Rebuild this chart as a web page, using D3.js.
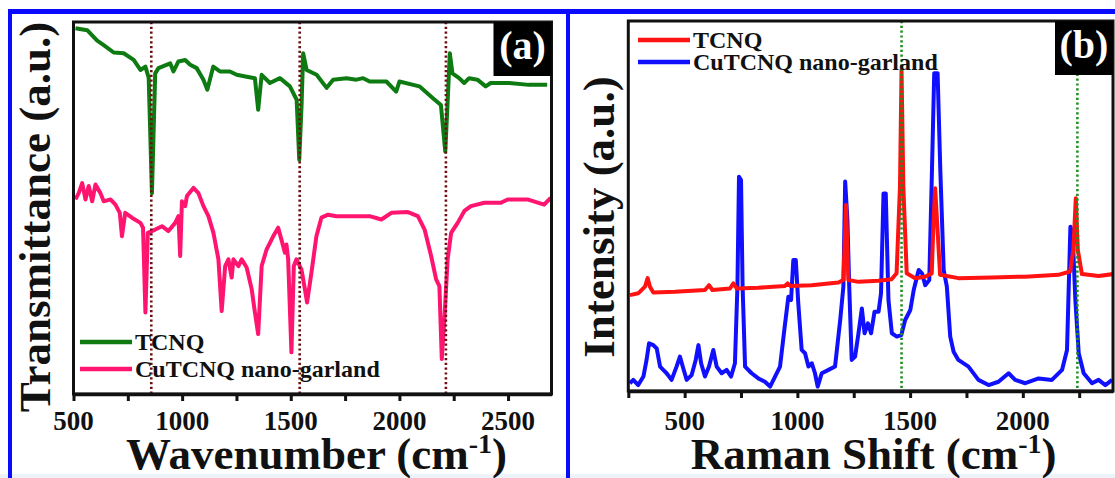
<!DOCTYPE html>
<html>
<head>
<meta charset="utf-8">
<script src="https://cdnjs.cloudflare.com/ajax/libs/d3/7.8.5/d3.min.js"></script>
<style>
  body { margin: 0; background: #fff; }
  svg { display: block; }
  svg text { font-family: "Liberation Serif", "DejaVu Serif", serif; font-weight: bold; }
</style>
</head>
<body>
<div id="chart"></div>
<script>
// ---- data ----
// (a) FTIR, [wavenumber, transmittance a.u.]
var ftirTcnq = [[509,98.3],[563,97.8],[609,95],[639,93.8],[685,91.8],[731,91.6],[777,89.8],[808,87.1],[831,88],[846,85],
  [861,54],[876,86.2],[891,87.6],[945,88.9],[960,86.7],[983,89.4],[1014,89.8],[1037,88.5],[1067,87.6],[1098,84.5],
  [1116,81.8],[1143,88],[1174,86.7],[1220,86.7],[1251,85.8],[1297,85.3],[1335,84.9],[1350,76.4],[1366,85.8],[1404,83.6],
  [1450,84.9],[1496,82.7],[1527,79.1],[1539,63],[1550,78.2],[1557,91.6],[1573,87.1],[1619,85.8],[1665,82.3],[1695,84.5],
  [1756,84.9],[1802,84.5],[1833,84.9],[1863,84],[1940,84],[1985,81.3],[2000,84],[2092,82.7],[2153,79.6],[2191,77.7],
  [2211,65.2],[2221,77.3],[2232,91.6],[2244,86.2],[2275,84.9],[2298,83.6],[2321,84.9],[2359,84.5],[2397,82.7],[2420,83.6],
  [2505,83.6],[2596,83.1],[2680,83.1]];
var ftirCuTcnq = [[509,52.3],[524,54],[540,56.7],[555,52.3],[570,55.9],[586,51.8],[601,56.3],[624,54],[639,51.8],[670,52.3],
  [693,50.9],[713,48.7],[723,42.4],[738,48.7],[769,47.4],[808,46],[820,44.7],[831,21.9],[842,43.3],[876,44.2],
  [907,45.1],[937,43.8],[968,46],[983,47.8],[991,37.1],[999,51.8],[1014,50.5],[1022,53.2],[1052,55.4],[1075,54],
  [1098,50.5],[1121,47.8],[1144,43.3],[1167,36.2],[1182,22.3],[1198,34.4],[1213,36.2],[1228,31.3],[1236,36.2],[1259,34.4],
  [1274,36.2],[1297,34],[1320,28.2],[1335,21.9],[1350,16.1],[1366,34.4],[1389,38.9],[1419,42.4],[1442,44.7],[1457,41.5],
  [1473,38],[1480,40.2],[1488,36.2],[1503,11.2],[1514,34.4],[1526,36.2],[1549,33.5],[1565,28.2],[1575,24.6],[1595,32.6],
  [1618,42.4],[1641,47.4],[1672,48.2],[1710,47.8],[1787,47.8],[1863,47.8],[1917,46.9],[1963,48.7],[2039,48.9],[2085,47.8],
  [2116,44.2],[2146,37.1],[2169,30.8],[2184,29],[2195,9.4],[2207,20.1],[2222,36.2],[2238,43.3],[2268,46],[2299,49.2],
  [2329,50.5],[2391,51.4],[2467,51.4],[2498,52.3],[2589,52.3],[2666,50.9],[2696,52.7]];
var ftirMarks = [858, 1541, 2214];

// (b) Raman, [shift, intensity a.u.]
var ramanTcnq = [[257,25.9],[294,26.4],[324,28.2],[336,30.5],[346,28.2],[361,26.6],[457,26.8],[590,27.3],[608,28.6],[623,27.3],
  [701,27.7],[716,29.1],[731,27.7],[827,27.9],[945,28.4],[957,29.1],[969,28.4],[1063,28.6],[1182,29.3],[1204,30],
  [1216,50.3],[1226,30],[1271,29.5],[1359,29.8],[1418,30.2],[1440,31.8],[1455,55.2],[1462,86.8],[1470,55.2],[1485,31.8],
  [1522,30.5],[1566,30.9],[1596,31.8],[1603,44.4],[1611,54.8],[1621,44.4],[1633,31.4],[1714,30.5],[1862,30.7],[2010,30.9],
  [2158,31.4],[2210,32.3],[2224,38.1],[2235,52.1],[2244,38.1],[2262,31.6],[2336,31.1],[2402,31.6]];
var ramanCuTcnq = [[257,2.1],[272,3],[294,1.6],[317,3.9],[331,8.4],[342,12.9],[361,12.4],[376,11.5],[391,6.6],[405,5.7],
  [420,4.8],[442,3],[464,6.6],[479,9.3],[494,6.1],[509,3],[531,4.3],[549,8.4],[561,12.4],[573,7.5],
  [590,3.9],[608,6.6],[627,11.1],[642,6.6],[664,4.8],[686,5.7],[706,3.9],[723,7.5],[734,28.2],[741,57.9],
  [750,57],[757,28.2],[768,6.6],[797,4.8],[827,3.4],[856,2.5],[879,1.2],[901,3.9],[923,6.6],[942,16.5],
  [960,25.5],[972,24.6],[982,35.4],[993,35.4],[1004,23.7],[1019,11.1],[1034,10.2],[1049,6.6],[1064,7.5],[1078,4.8],
  [1090,1.2],[1108,4.8],[1138,5.7],[1167,6.6],[1190,19.2],[1204,28.2],[1212,56.6],[1222,46.2],[1230,28.2],[1241,8.4],
  [1256,9.3],[1271,15.6],[1286,22.3],[1298,15.6],[1313,18.3],[1327,15.6],[1342,21.4],[1360,21.4],[1371,26.4],[1382,53.4],
  [1392,53.4],[1404,24.6],[1419,15.6],[1441,14.7],[1461,15.1],[1478,19.2],[1501,21.9],[1516,27.3],[1538,32.7],[1553,31.8],
  [1567,28.6],[1585,30],[1597,59.7],[1607,85.9],[1622,85.9],[1634,59.7],[1649,32.7],[1663,28.2],[1678,14.7],[1693,10.6],
  [1714,8.4],[1759,6.6],[1803,3],[1848,1.6],[1892,2.5],[1937,4.8],[1966,3],[2011,2.1],[2070,3.4],[2129,3],
  [2174,5.7],[2196,11.1],[2211,44.4],[2221,42.6],[2233,24.6],[2248,10.2],[2270,4.8],[2307,2.1],[2336,3],[2366,1.6],[2396,3]];
var ramanMarks = [1462, 2242];

var ftirTicks = d3.range(500, 2700, 250);
var ramanTicks = d3.range(250, 2400, 250);
var seriesNames = ["TCNQ", "CuTCNQ nano-garland"];

// ---- svg ----
var width = 1115, height = 478;
var svg = d3.select('#chart').append('svg')
    .attr('width', width)
    .attr('height', height);

// blue frame of the figure
svg.append('rect').attr('x', 0).attr('y', 474).attr('width', width).attr('height', 4).attr('fill', '#eef3f9');
svg.append('rect').attr('x', 8).attr('y', 9).attr('width', width - 8).attr('height', 5).attr('fill', '#0a0aff');
svg.append('rect').attr('x', 8).attr('y', 9).attr('width', 4).attr('height', height - 9).attr('fill', '#0a0aff');
svg.append('rect').attr('x', 566).attr('y', 9).attr('width', 4).attr('height', height - 9).attr('fill', '#0a0aff');

function panel(opt) {
    var x = d3.scaleLinear().domain(opt.xDomain).range(opt.xRange);
    var y = d3.scaleLinear().domain([0, 100]).range(opt.yRange);
    var g = svg.append('g');

    g.append('clipPath').attr('id', opt.id + 'clip')
        .append('rect')
        .attr('x', opt.xRange[0]).attr('y', opt.yRange[1])
        .attr('width', opt.xRange[1] - opt.xRange[0])
        .attr('height', opt.yRange[0] - opt.yRange[1]);

    var line = d3.line().x(function(d) { return x(d[0]); }).y(function(d) { return y(d[1]); });

    // draw back to front (drawOrder), legend keeps series order
    var plot = g.append('g').attr('clip-path', 'url(#' + opt.id + 'clip)');
    opt.drawOrder.forEach(function(k) {
        var s = opt.series[k];
        plot.append('path').datum(s.data)
            .attr('fill', 'none')
            .attr('stroke', s.color)
            .attr('stroke-width', 4)
            .attr('stroke-linejoin', 'round')
            .attr('d', line);
    });

    // dotted marker lines
    opt.marks.forEach(function(m) {
        g.append('line')
            .attr('x1', x(m)).attr('x2', x(m))
            .attr('y1', opt.yRange[1]).attr('y2', opt.yRange[0])
            .attr('stroke', opt.markColor)
            .attr('stroke-width', 2.6)
            .attr('stroke-dasharray', '2.2,2.6');
    });

    // frame
    g.append('rect')
        .attr('x', opt.xRange[0]).attr('y', opt.yRange[1])
        .attr('width', opt.xRange[1] - opt.xRange[0])
        .attr('height', opt.yRange[0] - opt.yRange[1])
        .attr('fill', 'none').attr('stroke', '#111').attr('stroke-width', 3);

    // bottom axis, ticks only; labels set below
    var axis = g.append('g')
        .attr('transform', 'translate(0,' + opt.yRange[0] + ')')
        .call(d3.axisBottom(x).tickValues(opt.ticks).tickSize(7).tickSizeOuter(0).tickFormat(''));
    axis.select('.domain').attr('stroke', '#111').attr('stroke-width', 3.5);
    axis.selectAll('.tick line').attr('stroke', '#111').attr('stroke-width', 3);
    axis.selectAll('.tick text').remove();

    g.append('g').selectAll('text')
        .data(opt.ticks.filter(function(d) { return d % 500 === 0; }))
        .join('text')
        .attr('x', function(d) { return x(d); })
        .attr('y', 430)
        .attr('text-anchor', 'middle')
        .attr('font-size', 27)
        .attr('fill', '#111')
        .text(function(d) { return d; });

    // panel label box
    g.append('rect')
        .attr('x', opt.xRange[1] - 58).attr('y', opt.yRange[1])
        .attr('width', 58).attr('height', 54).attr('fill', '#000');
    g.append('text')
        .attr('x', opt.xRange[1] - 29).attr('y', opt.yRange[1] + 37)
        .attr('text-anchor', 'middle')
        .attr('font-size', 40).attr('fill', '#fff')
        .text(opt.label);

    // legend
    opt.series.forEach(function(s, i) {
        var ly = opt.legend.y + i * opt.legend.dy;
        g.append('line')
            .attr('x1', opt.legend.x).attr('x2', opt.legend.x + 52)
            .attr('y1', ly).attr('y2', ly)
            .attr('stroke', s.color).attr('stroke-width', 4.5);
        g.append('text')
            .attr('x', opt.legend.x + 55).attr('y', ly).attr('dy', '0.33em')
            .attr('font-size', 24).attr('fill', '#111')
            .text(s.name);
    });

    // axis titles
    var xt = g.append('text')
        .attr('x', (opt.xRange[0] + opt.xRange[1]) / 2 + opt.xTitleShift).attr('y', 469)
        .attr('text-anchor', 'middle').attr('font-size', 45).attr('fill', '#111');
    xt.append('tspan').text(opt.xTitle + ' (cm');
    xt.append('tspan').attr('font-size', 28).attr('dy', -16).text('-1');
    xt.append('tspan').attr('dy', 16).text(')');

    g.append('text')
        .attr('transform', 'translate(' + opt.yTitleX + ',217) rotate(-90)')
        .attr('text-anchor', 'middle').attr('font-size', 45).attr('fill', '#111')
        .text(opt.yTitle);
}

panel({
    id: 'ftir',
    xDomain: [500, 2700], xRange: [73.5, 551.5], yRange: [394, 22],
    ticks: ftirTicks,
    series: [
        {name: seriesNames[0], color: '#0e7a12', data: ftirTcnq},
        {name: seriesNames[1], color: '#ff1470', data: ftirCuTcnq}
    ],
    drawOrder: [0, 1],
    marks: ftirMarks, markColor: '#6b1111',
    label: '(a)',
    legend: {x: 80, y: 342, dy: 27},
    xTitle: 'Wavenumber', xTitleShift: 4,
    yTitle: 'Transmittance (a.u.)', yTitleX: 50
});

panel({
    id: 'raman',
    xDomain: [250, 2400], xRange: [628.3, 1113], yRange: [391, 21],
    ticks: ramanTicks,
    series: [
        {name: seriesNames[0], color: '#ff1212', data: ramanTcnq},
        {name: seriesNames[1], color: '#1010ff', data: ramanCuTcnq}
    ],
    drawOrder: [1, 0],
    marks: ramanMarks, markColor: '#1f8f1f',
    label: '(b)',
    legend: {x: 638, y: 40, dy: 22},
    xTitle: 'Raman Shift', xTitleShift: 3,
    yTitle: 'Intensity (a.u.)', yTitleX: 614
});
</script>
</body>
</html>
